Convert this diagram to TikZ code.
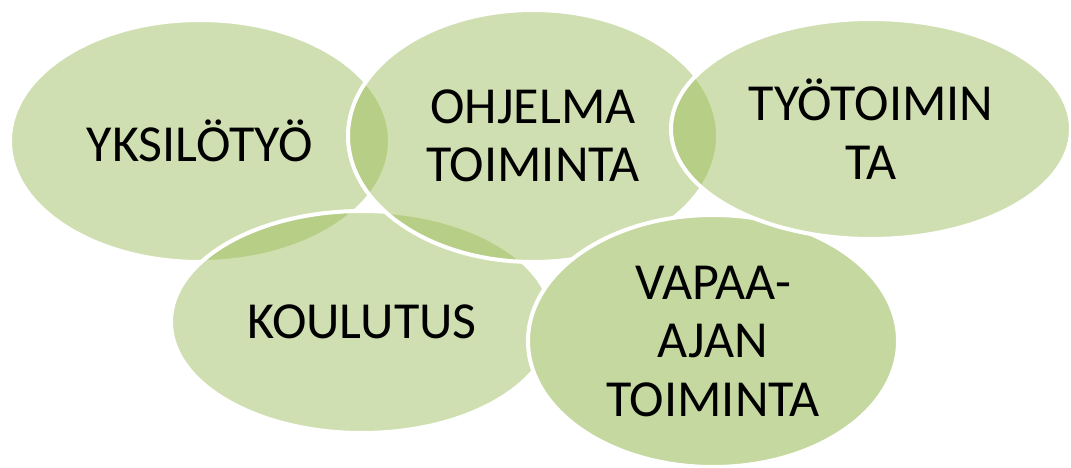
\documentclass[tikz,border=0pt]{standalone}
\usepackage{fontspec}
\setmainfont{Carlito}
\usetikzlibrary{shapes.geometric}
\definecolor{olivegreen}{HTML}{9BBB59}
\begin{document}
\begin{tikzpicture}[x=1pt,y=-1pt,
  blob/.style={ellipse, draw=white, line width=4pt, fill=olivegreen,
    fill opacity=0.47, text opacity=1, text=black, inner sep=0pt,
    align=center, font=\fontsize{52}{58.5}\selectfont},
  darkblob/.style={blob, fill=olivegreen!58!white, fill opacity=1}]
\useasboundingbox (0,0) rectangle (1071,468);
\node[blob, minimum width=380pt, minimum height=242pt] (yks) at (200,141) {YKSILÖTYÖ};
\node[blob, minimum width=382pt, minimum height=222pt] (kou) at (362,322) {KOULUTUS};
\node[blob, minimum width=370pt, minimum height=252pt] (ohj) at (533,136) {OHJELMA\\TOIMINTA};
\node[darkblob, minimum width=370pt, minimum height=252pt] (vap) at (713,341) {VAPAA-\\AJAN\\TOIMINTA};
\node[blob, minimum width=400pt, minimum height=220pt] (tyo) at (871,129) {TYÖTOIMIN\\TA};
\end{tikzpicture}
\end{document}
